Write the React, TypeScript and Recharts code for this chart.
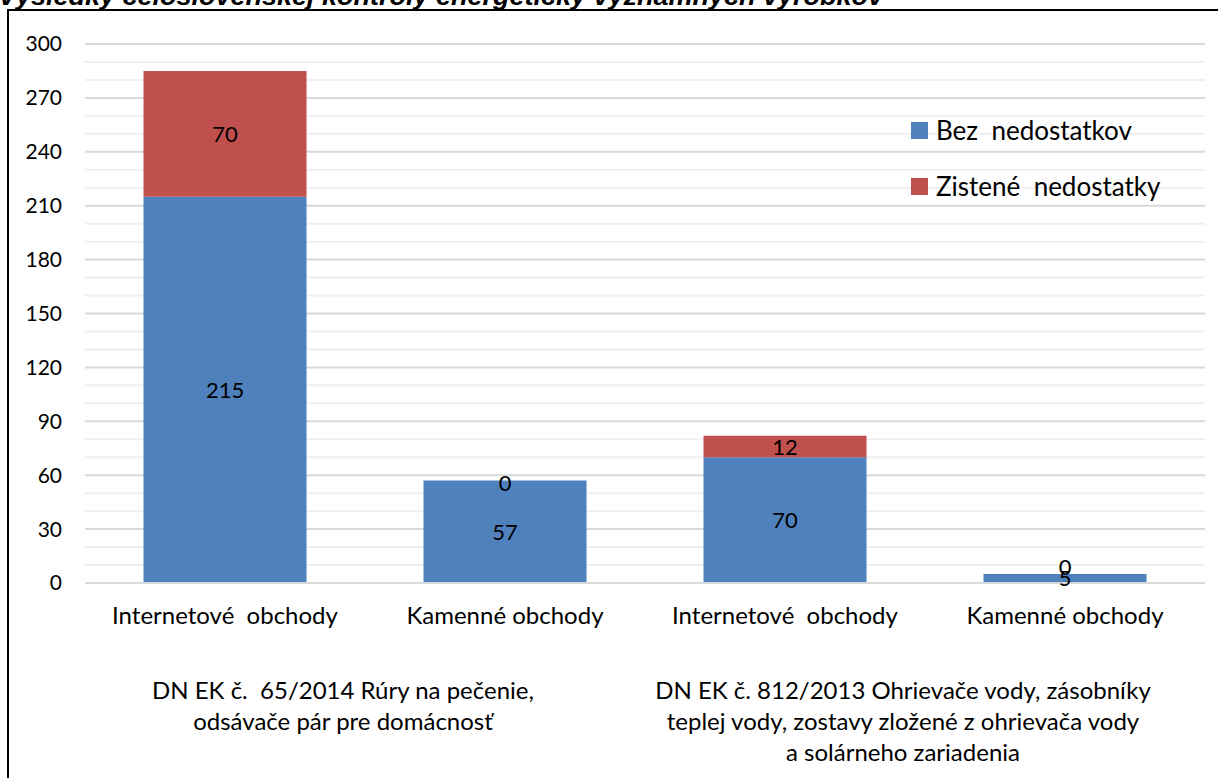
import { BarChart, Bar, XAxis, YAxis, CartesianGrid, LabelList } from 'recharts';

const FONT = 'Lato, "Noto Sans", sans-serif';

const categories = ['Internetové  obchody', 'Kamenné obchody', 'Internetové  obchody', 'Kamenné obchody'];
const categoryGroup = [0, 0, 1, 1];
const groupLines = [
  ['DN EK č.  65/2014 Rúry na pečenie,', 'odsávače pár pre domácnosť'],
  ['DN EK č. 812/2013 Ohrievače vody, zásobníky', 'teplej vody, zostavy zložené z ohrievača vody', 'a solárneho zariadenia'],
];
const bezNedostatkov = [215, 57, 70, 5];
const zisteneNedostatky = [70, 0, 12, 0];
const yTicks = [0, 30, 60, 90, 120, 150, 180, 210, 240, 270, 300];
const minorValues = [10, 20, 40, 50, 70, 80, 100, 110, 130, 140, 160, 170, 190, 200, 220, 230, 250, 260, 280, 290];

const title = 'Výsledky celoslovenskej kontroly energeticky významných výrobkov';

const series = [
  { key: 'bez', name: 'Bez  nedostatkov', color: '#4F81BD' },
  { key: 'zistene', name: 'Zistené  nedostatky', color: '#C0504D' },
];

const data = categories.map((name, i) => ({
  name,
  bez: bezNedostatkov[i],
  zistene: zisteneNedostatky[i],
}));

const PLOT_LEFT = 85;
const PLOT_RIGHT = 1205;
const BAND = (PLOT_RIGHT - PLOT_LEFT) / categories.length;

function CategoryTick(props: any) {
  const { x, y, payload, index } = props;
  const g = categoryGroup[index];
  const isFirst = index === categoryGroup.indexOf(g);
  return (
    <g>
      <text x={x} y={y + 41} textAnchor="middle" fontSize={24} fill="#000" fontFamily={FONT} style={{ whiteSpace: 'pre' }}>
        {payload.value}
      </text>
      {isFirst &&
        groupLines[g].map((line, li) => (
          <text
            key={li}
            x={x + BAND / 2 - 22}
            y={y + 116 + li * 31}
            textAnchor="middle"
            fontSize={24}
            fill="#000"
            fontFamily={FONT}
            style={{ whiteSpace: 'pre' }}
          >
            {line}
          </text>
        ))}
    </g>
  );
}

// red values > 0 sit in the middle of the red segment
function RedLabel(props: any) {
  const { x, y, width, height, value } = props;
  if (!value) return null;
  return (
    <text x={x + width / 2} y={y + height / 2} textAnchor="middle" dominantBaseline="central" fontSize={22} fill="#000" fontFamily={FONT}>
      {value}
    </text>
  );
}

// zero red values are drawn on top of the blue bar (excel keeps them)
function ZeroLabel(props: any) {
  const { x, y, width, height, value } = props;
  if (value !== 0) return null;
  const shift = height < 20 ? -8 : 2;
  return (
    <text x={x + width / 2} y={y + shift} textAnchor="middle" dominantBaseline="central" fontSize={22} fill="#000" fontFamily={FONT}>
      {value}
    </text>
  );
}

function LegendBox() {
  return (
    <div style={{ position: 'absolute', left: 911, top: 102, fontFamily: FONT, fontSize: 26, color: '#000' }}>
      {series.map((s) => (
        <div key={s.key} style={{ display: 'flex', alignItems: 'center', height: 56, whiteSpace: 'pre' }}>
          <span style={{ width: 17, height: 17, background: s.color, marginRight: 8, display: 'inline-block' }} />
          {s.name}
        </div>
      ))}
    </div>
  );
}

export default function App() {
  return (
    <div style={{ position: 'fixed', left: 0, top: 0, width: 1218, height: 778, overflow: 'hidden', background: '#fff' }}>
      <svg width={1218} height={20} style={{ position: 'absolute', left: 0, top: 0 }}>
        <text
          x={-2}
          y={5}
          fontSize={26}
          fontStyle="italic"
          fontWeight="bold"
          fontFamily='"Liberation Sans", Arial, sans-serif'
          fill="#000"
          textLength={885}
          lengthAdjust="spacingAndGlyphs"
        >
          {title}
        </text>
      </svg>
      <div
        style={{
          position: 'absolute',
          left: 7,
          top: 9,
          width: 1300,
          height: 900,
          border: '2px solid #000',
          boxSizing: 'border-box',
        }}
      />
      <div style={{ position: 'absolute', left: 0, top: 0 }}>
        <BarChart
          width={1218}
          height={778}
          data={data}
          margin={{ top: 44, right: 1218 - PLOT_RIGHT, bottom: 0, left: 25 }}
          barCategoryGap="20.9%"
        >
          <CartesianGrid vertical={false} horizontalValues={minorValues} stroke="#efefef" strokeWidth={2} />
          <CartesianGrid vertical={false} stroke="#d9d9d9" strokeWidth={2} />
          <XAxis
            dataKey="name"
            height={195}
            axisLine={{ stroke: '#d9d9d9', strokeWidth: 2 }}
            tickLine={false}
            tickSize={0}
            tickMargin={0}
            interval={0}
            tick={<CategoryTick />}
          />
          <YAxis
            width={60}
            domain={[0, 300]}
            ticks={yTicks}
            axisLine={false}
            tickLine={false}
            tickSize={0}
            tickMargin={23}
            interval={0}
            tick={{ fontSize: 21, fill: '#000', fontFamily: FONT }}
          />
          <Bar dataKey="bez" name={series[0].name} stackId="a" fill={series[0].color} isAnimationActive={false}>
            <LabelList dataKey="bez" position="center" fontSize={22} fill="#000" fontFamily={FONT} />
            <LabelList dataKey="zistene" content={<ZeroLabel />} />
          </Bar>
          <Bar dataKey="zistene" name={series[1].name} stackId="a" fill={series[1].color} isAnimationActive={false}>
            <LabelList dataKey="zistene" content={<RedLabel />} />
          </Bar>
        </BarChart>
      </div>
      <LegendBox />
    </div>
  );
}
